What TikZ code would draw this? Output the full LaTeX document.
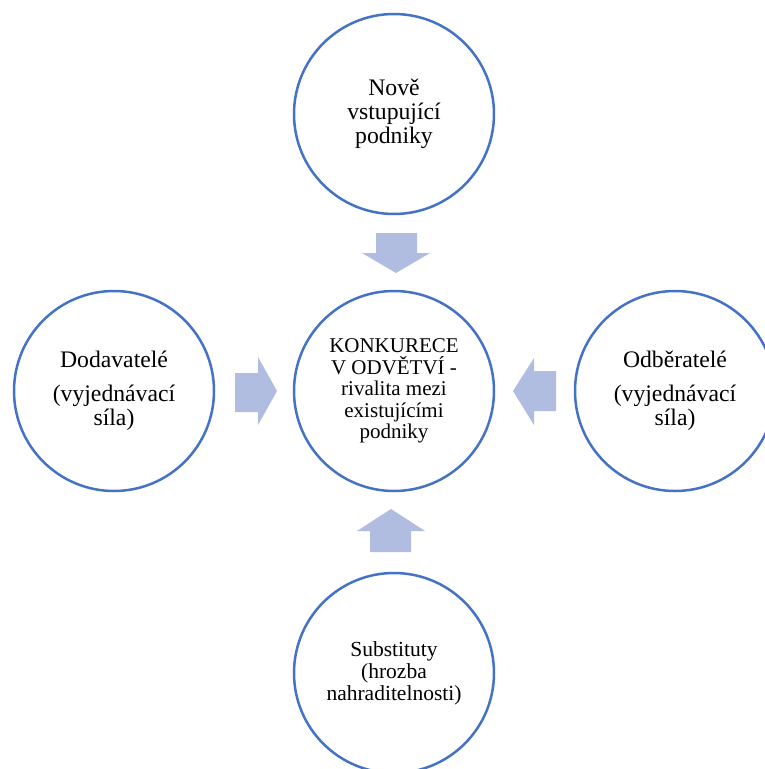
\documentclass[tikz,border=0pt]{standalone}
\usepackage{fontspec}
\setmainfont{Liberation Serif}
\begin{document}
\begin{tikzpicture}[x=1pt,y=-1pt,
  force/.style={circle, draw=forceblue, line width=2.5pt, fill=white,
    minimum size=200pt, inner sep=0pt, align=center, text=black,
    font=\fontsize{23.7}{24}\selectfont},
  smalltext/.style={font=\fontsize{21.5}{22}\selectfont},
  coretext/.style={font=\fontsize{21}{21.5}\selectfont},
  blockfill/.style={fill=arrowblue}]
\definecolor{forceblue}{RGB}{68,114,196}
\definecolor{arrowblue}{RGB}{176,188,224}
\useasboundingbox[fill=white] (0,0) rectangle (765,769);

% the five forces
\node[force] (novi) at (394,114) {Nově\\vstupující\\podniky};
\node[force, coretext] (rival) at (394,391)
  {KONKURECE\\V ODVĚTVÍ -\\rivalita mezi\\existujícími\\podniky};
\node[force] (dod) at (114,391) {Dodavatelé\\[10pt](vyjednávací\\síla)};
\node[force] (odb) at (675,391) {Odběratelé\\[10pt](vyjednávací\\síla)};
\node[force, smalltext] (sub) at (394,673) {Substituty\\(hrozba\\nahraditelnosti)};

% block arrows pointing at the central rivalry
\fill[blockfill] (376,233) -- (417,233) -- (417,253) -- (430,253) -- (396,273)
  -- (362,253) -- (376,253) -- cycle;
\fill[blockfill] (370,552) -- (411,552) -- (411,531) -- (425,531) -- (391,509)
  -- (357,531) -- (370,531) -- cycle;
\fill[blockfill] (235,373) -- (258,373) -- (258,357) -- (277,391) -- (258,425)
  -- (258,412) -- (235,412) -- cycle;
\fill[blockfill] (556,371) -- (534,371) -- (534,358) -- (513,391) -- (534,425)
  -- (534,411) -- (556,411) -- cycle;
\end{tikzpicture}
\end{document}
